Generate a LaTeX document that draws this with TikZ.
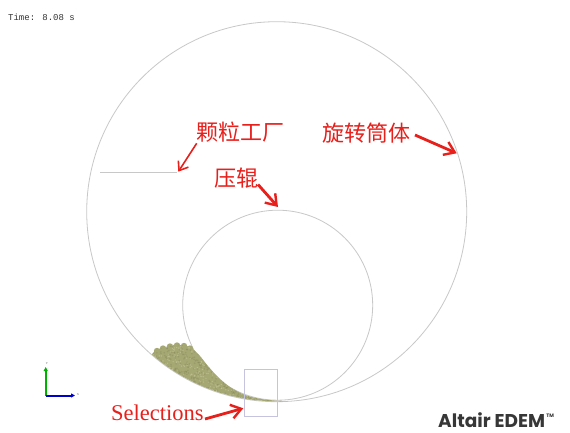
\documentclass[tikz,border=0pt]{standalone}
\usepackage{fontspec}
\setmainfont{Liberation Serif}
\newfontfamily\cjkfont{Noto Sans CJK SC}
\newfontfamily\monofont{Liberation Mono}
\newfontfamily\logofont{Poppins}
\usetikzlibrary{arrows.meta}

\definecolor{callred}{RGB}{232,32,28}
\definecolor{wallgray}{RGB}{200,200,200}
\definecolor{grain}{RGB}{166,168,116}
\definecolor{graindark}{RGB}{128,132,82}
\definecolor{grainlight}{RGB}{205,206,160}
\definecolor{boxline}{RGB}{196,196,222}
\definecolor{logogray}{RGB}{55,55,55}

\tikzset{
  wall/.style={draw=wallgray, line width=0.8pt},
  callout/.style={draw=callred, line width=2.8pt, -{Straight Barb[length=10pt,width=14pt,line width=2.4pt]}},
  thincallout/.style={draw=callred, line width=1.6pt, -{Straight Barb[length=8pt,width=12pt,line width=1.6pt]}},
  cnlabel/.style={text=callred, font=\cjkfont\fontsize{22}{22}\selectfont, inner sep=0pt},
  axisarrow/.style={line width=2pt, -{Triangle[length=4pt,width=4pt]}},
}

\def\bedtop{(150,357) (154,352) (159,349) (166,347) (173,345) (180,345)
  (187,346) (194,350) (200,356) (208,366) (218,377) (230,387)
  (245,395) (261,399) (278,400.8) (292,401.3)}

\begin{document}
\begin{tikzpicture}[x=1pt,y=-1pt]
  \useasboundingbox (0,0) rectangle (570,433);
  \fill[white] (0,0) rectangle (570,433);

  % drum, roller and particle factory plane
  \coordinate (drumc) at (276.7,211.7);
  \coordinate (rollc) at (277.7,305.2);
  \draw[wall] (drumc) circle[radius=190pt];
  \draw[wall] (rollc) circle[radius=95pt];
  \coordinate (fac1) at (100,172.7);
  \coordinate (fac2) at (177,172.7);
  \draw[wall] (fac1) -- (fac2);

  % particle bed lying on the drum wall
  \begin{scope}
    \clip (drumc) circle[radius=189.6pt];
    \path[fill=grain] plot[smooth] coordinates {\bedtop}
      -- (300,420) -- (140,420) -- cycle;
    \foreach \bx/\by in {157/351, 163/348.5, 170/346.5, 177/345.5, 184/346, 190/348.5}
      \fill[grain] (\bx,\by) circle[radius=3.2pt];
    \clip plot[smooth] coordinates {\bedtop}
      -- (300,420) -- (140,420) -- cycle;
    \pgfmathsetseed{11}
    \foreach \k in {1,...,900}{
      \pgfmathsetmacro{\px}{150+145*rnd}
      \pgfmathsetmacro{\py}{340+62*rnd}
      \fill[graindark, opacity=0.35] (\px,\py) circle[radius=0.9pt];
    }
    \foreach \k in {1,...,700}{
      \pgfmathsetmacro{\px}{150+145*rnd}
      \pgfmathsetmacro{\py}{340+62*rnd}
      \fill[grainlight, opacity=0.5] (\px,\py) circle[radius=0.7pt];
    }
  \end{scope}

  % selection region
  \draw[boxline, line width=0.7pt] (244.3,369) rectangle (277.3,416);

  % time stamp
  \node[anchor=west, inner sep=0pt, text=black!80, font=\monofont\fontsize{9}{9}\selectfont]
    (time) at (8,17) {Time: 8.08 s};

  % labels
  \node[cnlabel] (factory) at (240.5,132) {颗粒工厂};
  \node[cnlabel] (drumlbl) at (366.5,133) {旋转筒体};
  \node[cnlabel] (roller)  at (236,178) {压辊};
  \node[text=callred, inner sep=0pt, anchor=base west, font=\fontsize{22.5}{22.5}\selectfont]
    (sel) at (111,420.5) {Selections};

  % callout arrows
  \coordinate (fromfac) at (196.7,143.3);
  \coordinate (tofac) at (178.3,171.7);
  \coordinate (fromroll) at (258,184.5);
  \coordinate (toroll) at (278,207);
  \coordinate (fromdrum) at (415,135);
  \coordinate (todrum) at (456.7,153.3);
  \coordinate (fromsel) at (205,419);
  \coordinate (tosel) at (243.3,408.3);
  \draw[thincallout] (fromfac) -- (tofac);
  \draw[callout] (fromroll) -- (toroll);
  \draw[callout] (fromdrum) -- (todrum);
  \draw[callout] (fromsel) -- (tosel);

  % axis triad
  \coordinate (ax0) at (45.7,395.5);
  \coordinate (axy) at (45.7,367);
  \coordinate (axx) at (75,395.5);
  \draw[axisarrow, draw=green!70!black, fill=green!70!black] (ax0) -- (axy);
  \draw[axisarrow, draw=blue!80!black, fill=blue!80!black] (ax0) -- (axx);
  \node[font=\fontsize{3}{3}\selectfont, inner sep=0pt, text=black!60] (ylab) at (47,364) {Y};
  \node[font=\fontsize{3}{3}\selectfont, inner sep=0pt, text=black!60] (xlab) at (78,395) {X};

  % brand mark
  \node[anchor=base west, inner sep=0pt, text=logogray, font=\logofont\bfseries\fontsize{18.5}{18.5}\selectfont]
    (logo) at (438,427.5) {Altair EDEM};
  \node[anchor=north west, inner sep=0pt, text=logogray, font=\logofont\bfseries\fontsize{5}{5}\selectfont]
    (tm) at ([xshift=0.8pt,yshift=-1pt]logo.north east) {TM};
\end{tikzpicture}
\end{document}
